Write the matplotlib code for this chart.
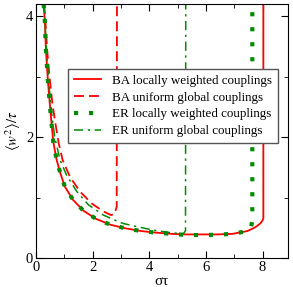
import matplotlib
matplotlib.use('Agg')
import matplotlib.pyplot as plt
from matplotlib.ticker import MultipleLocator

plt.rcParams['font.family'] = ['Liberation Serif', 'DejaVu Serif']
plt.rcParams['mathtext.fontset'] = 'stix'

# BA, locally weighted couplings
ba_local_x = [0.27, 0.31, 0.35, 0.42, 0.51, 0.61, 0.73, 0.86, 1.02, 1.31, 1.68, 2.13,
              2.63, 3.17, 3.71, 4.23, 4.77, 5.32, 5.87, 6.41, 6.95, 7.47, 7.75, 7.92,
              8.00, 8.03, 8.03]
ba_local_y = [4.20, 3.93, 3.44, 2.93, 2.42, 1.92, 1.62, 1.40, 1.18, 0.96, 0.78, 0.645,
              0.55, 0.49, 0.446, 0.42, 0.40, 0.39, 0.39, 0.39, 0.40, 0.446, 0.51, 0.57,
              0.62, 0.66, 4.30]

# BA, uniform global couplings
ba_uniform_x = [0.29, 0.34, 0.40, 0.49, 0.58, 0.68, 0.80, 0.94, 1.20, 1.55, 1.97, 2.38,
                2.65, 2.78, 2.85, 2.86]
ba_uniform_y = [4.20, 3.85, 3.40, 2.94, 2.55, 2.24, 1.90, 1.62, 1.34, 1.10, 0.90, 0.77,
                0.71, 0.73, 0.85, 4.30]

# ER, locally weighted couplings
er_local_x = [0.27, 0.31, 0.35, 0.42, 0.51, 0.61, 0.73, 0.86, 1.02, 1.31, 1.68, 2.13,
              2.63, 3.17, 3.71, 4.23, 4.77, 5.32, 5.87, 6.41, 6.95, 7.47, 7.60, 7.64, 7.64]
er_local_y = [4.20, 3.93, 3.44, 2.93, 2.42, 1.92, 1.62, 1.40, 1.18, 0.96, 0.78, 0.645,
              0.55, 0.49, 0.446, 0.42, 0.40, 0.38, 0.38, 0.385, 0.40, 0.446, 0.52, 0.62, 4.30]

# ER, uniform global couplings
er_uniform_x = [0.28, 0.33, 0.38, 0.45, 0.55, 0.66, 0.85, 1.08, 1.44, 1.85, 2.38, 2.91,
                3.09, 3.56, 4.15, 4.73, 5.20, 5.28, 5.29]
er_uniform_y = [4.20, 3.80, 3.35, 2.90, 2.40, 2.00, 1.62, 1.37, 1.10, 0.88, 0.71, 0.60,
                0.57, 0.52, 0.46, 0.42, 0.40, 0.45, 4.30]

red = '#ff0000'
green = '#008b00'

fig = plt.figure(figsize=(2.93, 2.87), dpi=100)
ax = fig.add_axes([0.1229, 0.101, 0.860, 0.885])

ax.plot(ba_local_x, ba_local_y, color=red, lw=1.3, label='BA locally weighted couplings')
ax.plot(ba_uniform_x, ba_uniform_y, color=red, lw=1.3, dashes=(5.5, 2.8),
        label='BA uniform global couplings')
ax.plot(er_local_x, er_local_y, color=green, lw=3.0, dashes=(1, 2.6),
        label='ER locally weighted couplings')
ax.plot(er_uniform_x, er_uniform_y, color=green, lw=1.1, dashes=(6, 3, 1.5, 3),
        label='ER uniform global couplings')

ax.set_xlim(0, 8.9)
ax.set_ylim(0, 4.2)
ax.xaxis.set_major_locator(MultipleLocator(2))
ax.xaxis.set_minor_locator(MultipleLocator(1))
ax.yaxis.set_major_locator(MultipleLocator(2))
ax.yaxis.set_minor_locator(MultipleLocator(1))
ax.tick_params(which='both', direction='in', top=True, right=True, labelsize=10.5, pad=2)
ax.tick_params(which='major', length=5)
ax.tick_params(which='minor', length=3)

ax.set_xlabel('στ', fontsize=11, labelpad=1)
ax.set_ylabel(r'$\langle w^2\rangle/\tau$', fontsize=10.5, labelpad=2)

leg = ax.legend(loc='upper left', bbox_to_anchor=(0.127, 0.744), borderaxespad=0,
                fontsize=9.4, frameon=True, fancybox=False, framealpha=1,
                edgecolor='#555555', handlelength=2.1, labelspacing=0.35,
                borderpad=0.45)
leg.get_frame().set_linewidth(1.0)

fig.savefig('out.png', dpi=100)
